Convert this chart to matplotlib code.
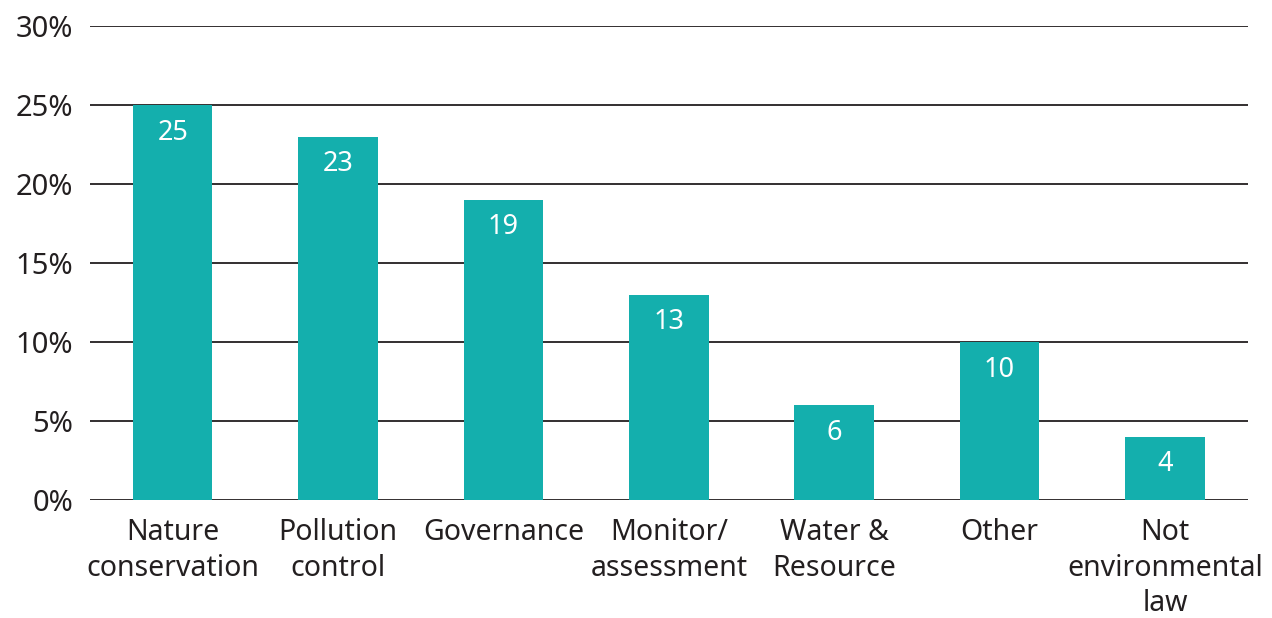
import matplotlib.pyplot as plt
import numpy as np

# data
categories = ['Nature\nconservation', 'Pollution\ncontrol', 'Governance',
              'Monitor/\nassessment', 'Water &\nResource', 'Other',
              'Not\nenvironmental\nlaw']
values = [25, 23, 19, 13, 6, 10, 4]
yticks = [0, 5, 10, 15, 20, 25, 30]

plt.rcParams['font.family'] = ['Noto Sans', 'DejaVu Sans']
text_col = '#231F20'
bar_col = '#14AFAD'

fig = plt.figure(figsize=(12.72, 6.18), dpi=100)
ax = fig.add_axes([0.0708, 0.191, 0.910, 0.767])

x = np.arange(len(categories))
bars = ax.bar(x, values, width=0.48, color=bar_col, zorder=3)

for xi, v in zip(x, values):
    ax.text(xi, v - 1.75, str(v), ha='center', va='center',
            color='white', fontsize=19.5, zorder=4)

ax.set_xlim(-0.5, len(categories) - 0.5)
ax.set_ylim(0, 30)
ax.set_yticks(yticks)
ax.set_yticklabels([f'{t}%' for t in yticks], fontsize=21, color=text_col)
ax.set_xticks(x)
ax.set_xticklabels(categories, fontsize=20.5, color=text_col, linespacing=1.3)
ax.tick_params(axis='both', length=0)
ax.tick_params(axis='y', pad=12)
ax.tick_params(axis='x', pad=13)

ax.yaxis.grid(True, color='#231F20', linewidth=1.3, zorder=1)
ax.set_axisbelow(True)
for s in ax.spines.values():
    s.set_visible(False)

fig.savefig('out.png', dpi=100)
